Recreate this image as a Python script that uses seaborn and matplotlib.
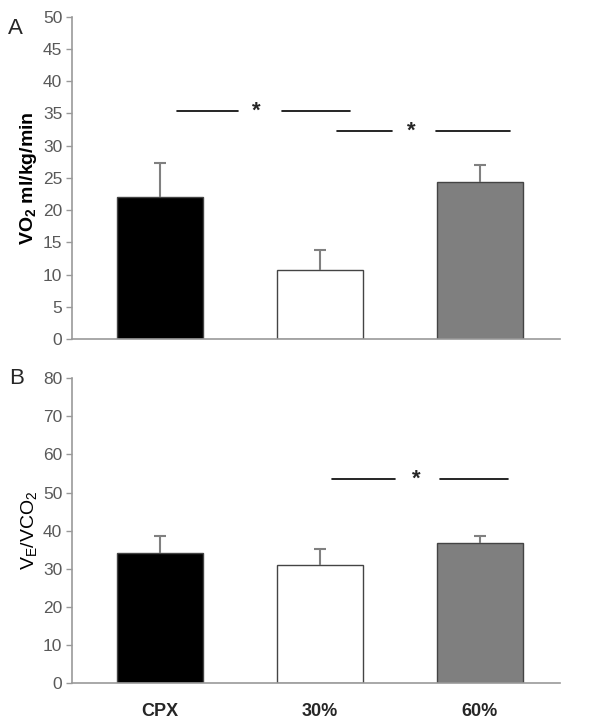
import matplotlib
matplotlib.use("Agg")
import matplotlib.pyplot as plt
import seaborn as sns
import pandas as pd
import numpy as np

categories = ["CPX", "30%", "60%"]
vo2_mean = [22.0, 10.7, 24.3]
vo2_err = [5.3, 3.1, 2.7]
ve_mean = [34.2, 31.0, 36.8]
ve_err = [4.3, 4.3, 1.7]
bar_colors = ["#000000", "#ffffff", "#7f7f7f"]

sns.set_theme(style="white")
plt.rcParams['font.family'] = ['Liberation Sans', 'DejaVu Sans']
plt.rcParams['mathtext.fontset'] = 'custom'
plt.rcParams['mathtext.rm'] = 'Liberation Sans'
plt.rcParams['mathtext.it'] = 'Liberation Sans'
plt.rcParams['mathtext.bf'] = 'Liberation Sans:bold'

fig = plt.figure(figsize=(6, 7.26), dpi=100)
axA = fig.add_axes([0.12, 0.533, 0.813, 0.444])
axB = fig.add_axes([0.12, 0.059, 0.813, 0.42])

grey = "#999999"
tickc = "#595959"

def draw(ax, means, errs, ymax, step, ylabel, bold):
    df = pd.DataFrame({"cat": categories, "val": means})
    sns.barplot(data=df, x="cat", y="val", hue="cat", palette=bar_colors,
                order=categories, hue_order=categories, legend=False,
                width=0.54, ax=ax, edgecolor="#444444", linewidth=1.0)
    xs = np.arange(len(categories))
    eb = ax.errorbar(xs, means, yerr=[np.zeros(len(errs)), errs], fmt="none",
                     ecolor="#808080", elinewidth=1.5, capsize=4, capthick=1.5)
    eb[1][0].set_visible(False)
    ax.set_xlim(-0.55, 2.5)
    ax.set_ylim(0, ymax)
    ax.set_yticks(np.arange(0, ymax + 1, step))
    ax.tick_params(axis="y", colors=tickc, labelsize=12.5, length=4, width=1,
                   direction="out", left=True, pad=3)
    ax.tick_params(axis="y", color=grey)
    ax.set_xlabel("")
    ax.set_ylabel(ylabel, fontsize=14, fontweight="bold" if bold else "normal",
                  color="#000000", labelpad=3)
    for s in ["top", "right"]:
        ax.spines[s].set_visible(False)
    for s in ["left", "bottom"]:
        ax.spines[s].set_color(grey)
        ax.spines[s].set_linewidth(1.2)

def sig(ax, y, segs, xstar):
    for a, b in segs:
        ax.plot([a, b], [y, y], color="#000000", lw=1.2)
    ax.text(xstar, y, "*", ha="center", va="center", fontsize=16,
            fontweight="bold")

draw(axA, vo2_mean, vo2_err, 50, 5, r"VO$_\mathbf{2}$ ml/kg/min", True)
axA.set_xticks([0, 1, 2])
axA.set_xticklabels([])
axA.tick_params(axis="x", bottom=False)
sig(axA, 35.3, [(0.106, 0.49), (0.76, 1.19)], 0.6)
sig(axA, 32.2, [(1.11, 1.45), (1.725, 2.19)], 1.57)

draw(axB, ve_mean, ve_err, 80, 10, r"V$_\mathrm{E}$/VCO$_\mathrm{2}$", False)
axB.set_xticks([0, 1, 2])
axB.set_xticklabels(categories, fontsize=13, fontweight="bold")
axB.tick_params(axis="x", bottom=False, pad=8)
sig(axB, 53.5, [(1.075, 1.47), (1.75, 2.175)], 1.6)

fig.text(0.013, 0.975, "A", fontsize=16, va="top", ha="left")
fig.text(0.016, 0.493, "B", fontsize=16, va="top", ha="left")

fig.savefig("out.png", dpi=100)
